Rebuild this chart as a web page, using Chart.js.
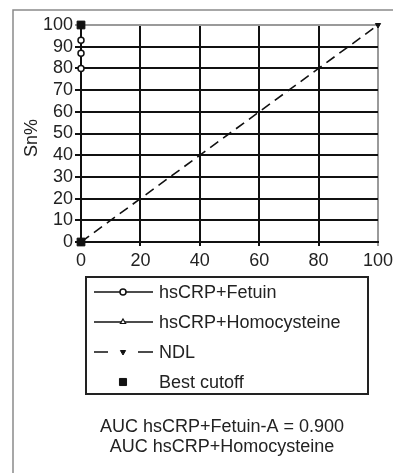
<!DOCTYPE html>
<html lang="en">
    <head>
        <meta charset="UTF-8" />
        <title>ROC curves</title>
        <script src="https://cdn.jsdelivr.net/npm/chart.js"></script>
        <style>
            body {
                margin: 0;
                background: #fff;
            }
            #wrap {
                position: relative;
                width: 393px;
                height: 473px;
                overflow: hidden;
            }
        </style>
    </head>
    <body>
        <div id="wrap">
            <canvas id="roc" width="393" height="473"></canvas>
        </div>

        <script>
            // data (1 - specificity %, sensitivity %)
            const fetuinFpr = [0, 0, 0, 0, 0];
            const fetuinSn = [0, 80, 87, 93, 100];
            const hcyFpr = [0, 0];
            const hcySn = [0, 100];
            const ndlX = [0, 100];
            const ndlY = [0, 100];
            const bestX = [0, 0];
            const bestY = [0, 100];

            const legendLabels = ['hsCRP+Fetuin', 'hsCRP+Homocysteine', 'NDL', 'Best cutoff'];
            const aucLines = ['AUC hsCRP+Fetuin-A = 0.900', 'AUC hsCRP+Homocysteine'];

            const FONT = '"Liberation Sans", Arial, sans-serif';
            const FSIZE = 18;
            const toPts = (xs, ys) => xs.map((x, i) => ({ x: x, y: ys[i] }));

            // frame, y title, legend box and AUC notes
            const decor = {
                id: 'decor',
                beforeDraw(chart) {
                    const ctx = chart.ctx;
                    ctx.save();
                    ctx.fillStyle = '#fff';
                    ctx.fillRect(0, 0, chart.width, chart.height);
                    ctx.strokeStyle = '#8a8a8a';
                    ctx.lineWidth = 1.5;
                    ctx.beginPath();
                    ctx.moveTo(13, chart.height);
                    ctx.lineTo(13, 10);
                    ctx.lineTo(chart.width, 10);
                    ctx.stroke();
                    ctx.restore();
                },
                afterDraw(chart) {
                    const ctx = chart.ctx;
                    ctx.save();
                    ctx.fillStyle = '#222';
                    ctx.font = FSIZE + 'px ' + FONT;

                    // y axis title
                    ctx.save();
                    ctx.translate(32, 138);
                    ctx.rotate(-Math.PI / 2);
                    ctx.textAlign = 'center';
                    ctx.textBaseline = 'middle';
                    ctx.fillText('Sn%', 0, 0);
                    ctx.restore();

                    // legend box
                    ctx.strokeStyle = '#222';
                    ctx.lineWidth = 2;
                    ctx.strokeRect(86, 277, 282, 117);

                    const rows = [292, 322, 352, 382];
                    const sets = chart.data.datasets;
                    const order = [1, 2, 3, 0];
                    ctx.textAlign = 'left';
                    ctx.textBaseline = 'middle';
                    rows.forEach((y, i) => {
                        const ds = sets[order[i]];
                        ctx.lineWidth = 1.5;
                        ctx.strokeStyle = '#111';
                        if (i < 2) {
                            ctx.beginPath();
                            ctx.moveTo(94, y);
                            ctx.lineTo(153, y);
                            ctx.stroke();
                        } else if (i === 2) {
                            ctx.beginPath();
                            ctx.moveTo(94, y);
                            ctx.lineTo(108, y);
                            ctx.moveTo(138, y);
                            ctx.lineTo(153, y);
                            ctx.stroke();
                        }
                        ctx.fillStyle = ds.pointBackgroundColor;
                        ctx.strokeStyle = '#111';
                        ctx.lineWidth = ds.pointBorderWidth;
                        Chart.helpers.drawPoint(
                            ctx,
                            {
                                pointStyle: ds.pointStyle,
                                radius: i === 3 ? 5 : 3,
                                rotation: ds.pointRotation || 0,
                                borderWidth: ds.pointBorderWidth,
                            },
                            123,
                            y
                        );
                        ctx.fillStyle = '#222';
                        ctx.fillText(legendLabels[i], 159, y + 1);
                    });

                    // AUC notes
                    ctx.textAlign = 'center';
                    ctx.fillText(aucLines[0], 222, 427);
                    ctx.fillText(aucLines[1], 222, 447);
                    ctx.restore();
                },
            };

            const gridColor = (ctx) => (ctx.tick && ctx.tick.value === 100 ? '#9a9a9a' : '#111');

            new Chart(document.getElementById('roc'), {
                type: 'scatter',
                data: {
                    datasets: [
                        {
                            label: 'Best cutoff',
                            data: toPts(bestX, bestY),
                            showLine: false,
                            pointStyle: 'rect',
                            pointRadius: 5.5,
                            pointBackgroundColor: '#111',
                            pointBorderColor: '#111',
                            pointBorderWidth: 1,
                            clip: false,
                        },
                        {
                            label: 'hsCRP+Fetuin',
                            data: toPts(fetuinFpr, fetuinSn),
                            showLine: true,
                            borderColor: '#111',
                            borderWidth: 1.5,
                            pointStyle: 'circle',
                            pointRadius: 3,
                            pointBackgroundColor: '#fff',
                            pointBorderColor: '#111',
                            pointBorderWidth: 1.5,
                            clip: false,
                        },
                        {
                            label: 'hsCRP+Homocysteine',
                            data: toPts(hcyFpr, hcySn),
                            showLine: true,
                            borderColor: '#111',
                            borderWidth: 1.5,
                            pointStyle: 'triangle',
                            pointRadius: 0,
                            pointBackgroundColor: '#fff',
                            pointBorderColor: '#111',
                            pointBorderWidth: 1.2,
                            clip: false,
                        },
                        {
                            label: 'NDL',
                            data: toPts(ndlX, ndlY),
                            showLine: true,
                            borderColor: '#111',
                            borderWidth: 1.6,
                            borderDash: [10, 6],
                            pointStyle: 'triangle',
                            pointRotation: 180,
                            pointRadius: [0, 3],
                            pointBackgroundColor: '#111',
                            pointBorderColor: '#111',
                            pointBorderWidth: 1,
                            clip: false,
                        },
                    ],
                },
                options: {
                    responsive: false,
                    animation: false,
                    devicePixelRatio: 1,
                    layout: { padding: { left: 0, top: 25, right: 15, bottom: 0 } },
                    plugins: {
                        legend: { display: false },
                        tooltip: { enabled: false },
                    },
                    scales: {
                        x: {
                            type: 'linear',
                            min: 0,
                            max: 100,
                            afterFit: (s) => {
                                s.height = 231;
                                s.paddingLeft = 0;
                                s.paddingRight = 0;
                            },
                            ticks: {
                                stepSize: 20,
                                padding: 4,
                                autoSkip: false,
                                color: '#222',
                                font: { family: FONT, size: FSIZE },
                                maxRotation: 0,
                            },
                            grid: { color: gridColor, lineWidth: 2, tickLength: 4 },
                            border: { color: '#111', width: 2 },
                        },
                        y: {
                            type: 'linear',
                            min: 0,
                            max: 100,
                            afterFit: (s) => {
                                s.width = 81;
                                s.paddingTop = 0;
                                s.paddingBottom = 0;
                            },
                            ticks: {
                                stepSize: 10,
                                padding: 2,
                                autoSkip: false,
                                color: '#222',
                                font: { family: FONT, size: FSIZE },
                            },
                            grid: { color: gridColor, lineWidth: 2, tickLength: 6 },
                            border: { color: '#111', width: 2 },
                        },
                    },
                },
                plugins: [decor],
            });
        </script>
    </body>
</html>
